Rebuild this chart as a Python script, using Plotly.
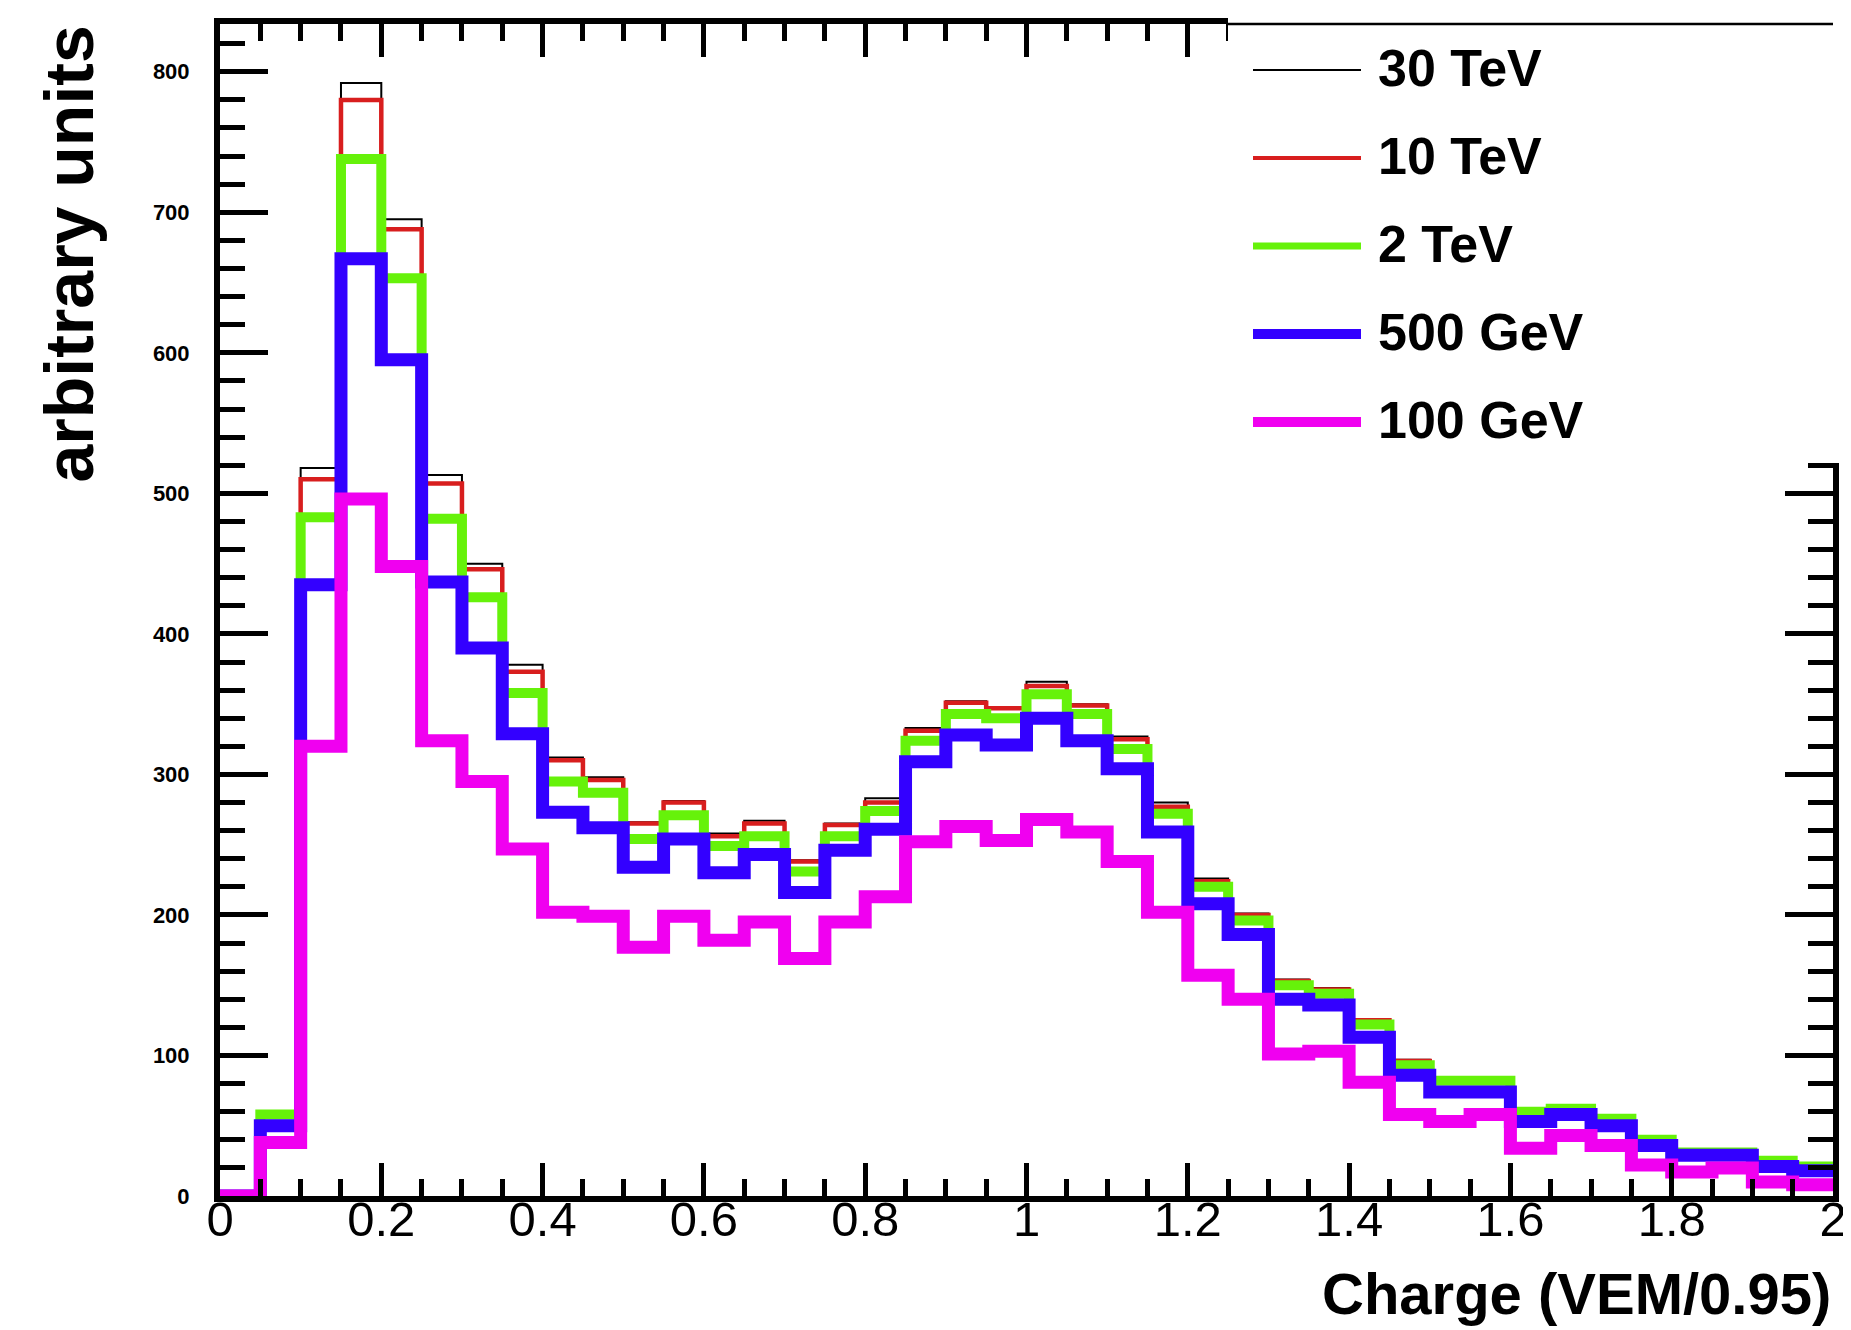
import plotly.graph_objects as go

# ---- data -------------------------------------------------------------
bin_edges = [round(0.05 * i, 2) for i in range(41)]  # 0 .. 2 in steps of 0.05

labels = ["30 TeV", "10 TeV", "2 TeV", "500 GeV", "100 GeV"]

tev30 = [0, 58, 518, 792, 695, 513, 450, 378, 312, 298,
         266, 281, 258, 267, 239, 265, 283, 333, 352, 348,
         366, 350, 327, 280, 226, 201, 154, 148, 126, 97,
         84, 84, 62, 64, 57, 42, 33, 33, 27, 22]
tev10 = [0, 58, 510, 780, 688, 507, 446, 373, 310, 296,
         265, 280, 256, 265, 238, 264, 280, 331, 351, 347,
         363, 349, 325, 277, 224, 200, 153, 147, 125, 96,
         83, 83, 61, 63, 56, 41, 32, 32, 26, 21]
tev2 = [0, 58, 483, 738, 653, 482, 426, 358, 295, 287,
        254, 271, 249, 256, 231, 256, 274, 324, 343, 340,
        357, 343, 318, 272, 220, 196, 150, 144, 122, 93,
        82, 82, 60, 62, 55, 40, 31, 31, 25, 21]
gev500 = [0, 50, 435, 667, 595, 437, 390, 329, 273, 262,
          234, 254, 230, 243, 216, 246, 261, 309, 328, 321,
          340, 324, 304, 259, 208, 186, 140, 136, 113, 86,
          74, 74, 53, 58, 50, 36, 29, 29, 21, 18]
gev100 = [0, 38, 320, 496, 448, 324, 295, 247, 202, 199,
          177, 199, 182, 195, 169, 195, 213, 252, 263, 253,
          268, 259, 238, 202, 157, 140, 101, 103, 81, 58,
          53, 58, 34, 43, 36, 22, 17, 20, 10, 8]

series = [tev30, tev10, tev2, gev500, gev100]
colors = ["#000000", "#d81e1e", "#66f20a", "#3300ff", "#f000f0"]
widths = [2, 4.5, 10, 13, 13]
legend_widths = [2, 4, 7, 10, 10]

# ---- figure -----------------------------------------------------------
W, H = 1851, 1330
ML, MR, MT, MB = 212, 26, 16, 142
PW, PH = W - ML - MR, H - MT - MB

fig = go.Figure()
for name, vals, c, w in zip(labels, series, colors, widths):
    fig.add_trace(go.Scatter(
        x=bin_edges, y=vals + [vals[-1]], mode="lines", name=name,
        line=dict(color=c, width=w, shape="hv"),
        showlegend=False, hoverinfo="skip"))

def px_x(px):
    return (px - ML) / PW

def px_y(py):
    return (MT + PH - py) / PH

shapes = []
annotations = []

# legend box (covers the top-right part of the frame, like the ROOT TLegend)
shapes.append(dict(type="rect", xref="paper", yref="paper",
                   x0=px_x(1220), x1=1.03, y0=px_y(455), y1=1.03,
                   fillcolor="white", line=dict(width=0), layer="above"))
shapes.append(dict(type="line", xref="paper", yref="paper",
                   x0=px_x(1220), x1=1.0, y0=1.0, y1=1.0,
                   line=dict(color="black", width=2.5), layer="above"))

leg_y0, leg_dy = 62, 88
for i, (name, c, lw) in enumerate(zip(labels, colors, legend_widths)):
    yy = leg_y0 + i * leg_dy
    shapes.append(dict(type="line", xref="paper", yref="paper",
                       x0=px_x(1245), x1=px_x(1353), y0=px_y(yy), y1=px_y(yy),
                       line=dict(color=c, width=lw), layer="above"))
    annotations.append(dict(xref="paper", yref="paper", x=px_x(1368), y=px_y(yy - 2),
                            xanchor="left", yanchor="middle", showarrow=False,
                            text="<b>%s</b>" % name,
                            font=dict(family="Liberation Sans", size=52, color="black")))

# axis titles
annotations.append(dict(xref="paper", yref="paper", x=1.0, y=px_y(1285),
                        xanchor="right", yanchor="middle", showarrow=False,
                        text="<b>Charge (VEM/0.95)</b>",
                        font=dict(family="Liberation Sans", size=58, color="black")))
annotations.append(dict(xref="paper", yref="paper", x=px_x(60), y=px_y(16),
                        xanchor="center", yanchor="top", showarrow=False,
                        textangle=-90, text="<b>arbitrary units</b>",
                        font=dict(family="Liberation Sans", size=68, color="black")))

fig.update_layout(
    width=W, height=H,
    margin=dict(l=ML, r=MR, t=MT, b=MB),
    paper_bgcolor="white", plot_bgcolor="white",
    showlegend=False,
    shapes=shapes, annotations=annotations,
    xaxis=dict(range=[0, 2], tick0=0, dtick=0.2, showgrid=False, zeroline=False,
               automargin=False,
               showline=True, linecolor="black", linewidth=6, mirror="ticks",
               ticks="inside", ticklen=33, tickwidth=4.5, tickcolor="black",
               minor=dict(dtick=0.05, ticks="inside", ticklen=17, tickwidth=4.5,
                          tickcolor="black", showgrid=False),
               ticklabelstandoff=-25,
               tickfont=dict(family="Liberation Sans", size=49, color="black")),
    yaxis=dict(range=[0, 834], tick0=0, dtick=100, showgrid=False, zeroline=False,
               automargin=False,
               showline=True, linecolor="black", linewidth=6, mirror="ticks",
               ticks="inside", ticklen=48, tickwidth=4.5, tickcolor="black",
               minor=dict(dtick=20, ticks="inside", ticklen=25, tickwidth=4.5,
                          tickcolor="black", showgrid=False),
               ticklabelstandoff=20,
               tickfont=dict(family="Liberation Sans", size=22, color="black",
                             weight="bold")),
)

fig.write_html("out.html")
